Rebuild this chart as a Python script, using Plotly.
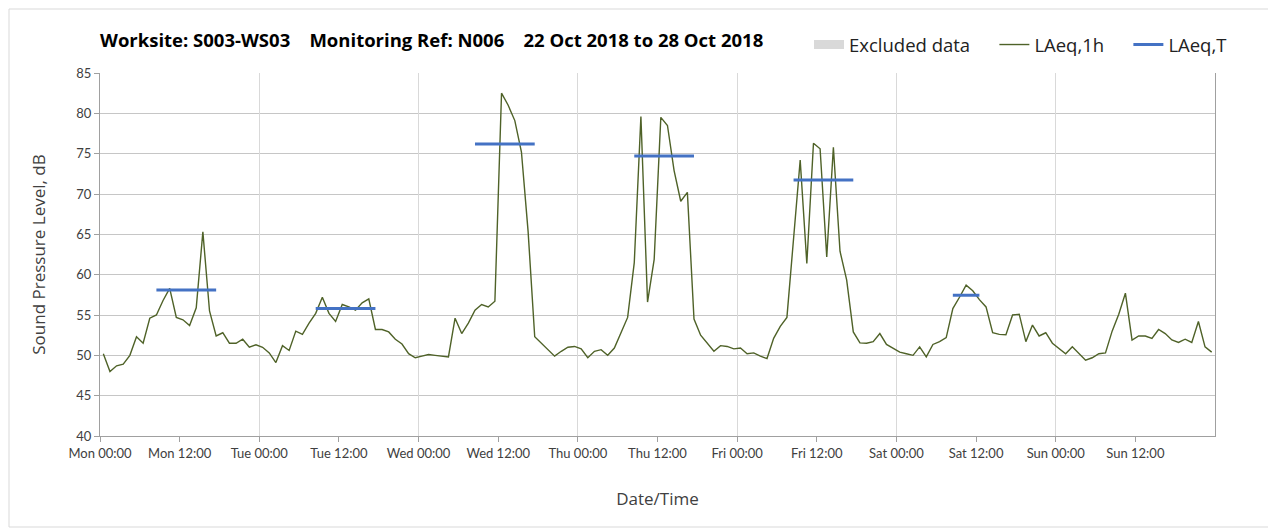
import plotly.graph_objects as go

# ---- data ----
laeq_1h = [
    50.2, 48.0, 48.7, 48.9, 50.0, 52.3, 51.5, 54.6, 55.0, 56.8,
    58.3, 54.7, 54.4, 53.7, 55.9, 65.3, 55.5, 52.4, 52.8, 51.5,
    51.5, 52.0, 51.0, 51.3, 51.0, 50.3, 49.1, 51.2, 50.6, 53.0,
    52.6, 54.0, 55.2, 57.2, 55.2, 54.2, 56.3, 56.0, 55.6, 56.5,
    57.0, 53.2, 53.2, 52.9, 52.0, 51.4, 50.2, 49.7, 49.9, 50.1,
    50.0, 49.9, 49.8, 54.6, 52.7,
    54.0, 55.6, 56.3, 56.0, 56.7, 82.5, 81.0, 79.1, 75.2, 65.4,
    52.3, 51.5, 50.7, 49.9, 50.5, 51.0, 51.1, 50.8, 49.7, 50.5,
    50.7, 50.0, 50.9, 52.8, 54.7, 61.5, 79.6, 56.6, 61.9, 79.5,
    78.5, 72.9, 69.1, 70.2, 54.5, 52.5, 51.5, 50.5, 51.2, 51.1,
    50.8, 50.9, 50.2, 50.3, 49.9, 49.6, 52.1, 53.6, 54.7, 64.8,
    74.2, 61.4, 76.3, 75.6, 62.2,
    75.8, 62.9, 59.35, 52.9, 51.55, 51.5, 51.7, 52.7, 51.35, 50.9,
    50.4, 50.2, 50.0, 51.05, 49.8, 51.35, 51.7, 52.2, 55.8, 57.2,
    58.7, 58.0, 56.9, 56.0, 52.8, 52.6, 52.55, 55.0, 55.1, 51.7,
    53.75, 52.4, 52.8, 51.5, 50.8, 50.2, 51.05, 50.2, 49.4, 49.7,
    50.2, 50.3, 53.0, 55.1, 57.7, 51.9, 52.4, 52.4, 52.1, 53.2,
    52.7, 51.9, 51.6, 52.0, 51.6, 54.2, 51.05, 50.4,
]
hours = [i + 0.5 for i in range(len(laeq_1h))]  # hourly values plotted mid-hour

# LAeq,T periods: first and last hourly index of each period
period_first_hour = [8, 32, 56, 80, 104, 128]
period_last_hour = [17, 41, 65, 89, 113, 132]
laeq_t = [58.1, 55.8, 76.2, 74.7, 71.75, 57.45]

days = ["Mon", "Tue", "Wed", "Thu", "Fri", "Sat", "Sun"]
tick_hours = list(range(0, 168, 12))
tick_labels = [f"{days[h // 24]} {h % 24:02d}:00" for h in tick_hours]
day_hours = list(range(0, 169, 24))

# ---- build ----
tx, ty = [], []
for a, b, v in zip(period_first_hour, period_last_hour, laeq_t):
    tx += [a + 0.5, b + 0.5, None]
    ty += [v, v, None]

W, H = 1268, 524          # page has an 8px body offset
L, R, T, B = 92, 61, 65, 96
PW, PH = W - L - R, H - T - B

def px(page_x):
    return (page_x - 8 - L) / PW

def py(page_y):
    return (H - B - (page_y - 8)) / PH

FONT = "Lato, 'Open Sans', sans-serif"
OPEN = "'Open Sans', sans-serif"
SP = "\u00a0"
fig = go.Figure()
fig.add_trace(go.Scatter(x=[None], y=[None], mode="lines", name="Excluded data" + SP * 4,
                         line=dict(color="#d9d9d9", width=9)))
fig.add_trace(go.Scatter(x=hours, y=laeq_1h, mode="lines", name="LAeq,1h" + SP * 4,
                         line=dict(color="#4f6228", width=1.4)))
fig.add_trace(go.Scatter(x=tx, y=ty, mode="lines", name="LAeq,T",
                         line=dict(color="#4472c4", width=3)))
# invisible trace to carry the day grid axis
fig.add_trace(go.Scatter(x=[0, 168], y=[None, None], xaxis="x2", showlegend=False,
                         hoverinfo="skip"))

fig.update_layout(
    width=W, height=H,
    margin=dict(l=L, r=R, t=T, b=B),
    paper_bgcolor="white", plot_bgcolor="white",
    font=dict(family=FONT, color="#404040"),
    title=dict(text="<b>Worksite: S003-WS03" + SP * 4 + "Monitoring Ref: N006" + SP * 4
                    + "22 Oct 2018 to 28 Oct 2018</b>",
               x=92 / W, xanchor="left", y=1 - 33 / H, yanchor="middle",
               font=dict(size=18.5, color="#000000", family=OPEN)),
    legend=dict(orientation="h", x=px(1232), xanchor="right", y=py(45), yanchor="middle",
                font=dict(size=18.5, color="#222222", family=OPEN), bgcolor="rgba(0,0,0,0)",
                itemwidth=30, tracegroupgap=0),
    xaxis=dict(range=[0, 168], tickmode="array", tickvals=tick_hours, ticktext=tick_labels,
               showgrid=False, zeroline=False, showline=True, linecolor="#a0a0a0",
               ticks="outside", ticklen=5, tickcolor="#a0a0a0",
               tickfont=dict(size=13, color="#404040"),
               title=dict(text="Date/Time", font=dict(size=17, color="#404040", family=OPEN),
                          standoff=33)),
    xaxis2=dict(range=[0, 168], overlaying="x", tickmode="array", tickvals=day_hours,
                showticklabels=False, showgrid=True, gridcolor="#d9d9d9", gridwidth=1.3,
                zeroline=False, showline=False),
    yaxis=dict(range=[40, 85], dtick=5, showgrid=True, gridcolor="#c6c6c6", gridwidth=1.3,
               zeroline=False, showline=True, linecolor="#a0a0a0", mirror=True,
               ticks="outside", ticklen=5, tickcolor="#a0a0a0",
               tickfont=dict(size=13, color="#404040"),
               title=dict(text="Sound Pressure Level, dB",
                          font=dict(size=17, color="#404040", family=OPEN),
                          standoff=26)),
    shapes=[dict(type="rect", xref="paper", yref="paper",
                 x0=px(9), x1=px(1270), y0=py(527), y1=py(9),
                 line=dict(color="#d9d9d9", width=1), layer="below")],
)
fig.write_html("out.html")
